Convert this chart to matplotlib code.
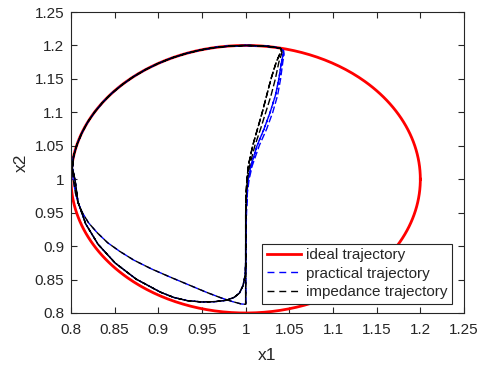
import numpy as np
import matplotlib
matplotlib.use("Agg")
import matplotlib.pyplot as plt
from matplotlib.lines import Line2D

plt.rcParams['font.family'] = ['Liberation Sans', 'DejaVu Sans']

# ---------------- data ----------------
ideal_center = (1.0, 1.0)
ideal_radius = 0.2

# vertical "spine" strands (shared y, several x variants)
spine_y = [0.85, 0.9, 0.95, 0.98, 1.0, 1.02, 1.05, 1.075, 1.1, 1.125, 1.15, 1.175, 1.187, 1.192]
spine_a = [1.0, 1.0, 1.0, 1.0005, 1.0015, 1.003, 1.008, 1.0135, 1.019, 1.024, 1.029, 1.035, 1.039, 1.041]
spine_b = [1.0, 1.0, 1.0, 1.001, 1.002, 1.0045, 1.0105, 1.017, 1.023, 1.029, 1.034, 1.038, 1.041, 1.042]
spine_c = [1.0, 1.0, 1.0005, 1.0015, 1.003, 1.006, 1.013, 1.021, 1.028, 1.034, 1.038, 1.041, 1.043, 1.043]
spine_d = [1.0, 1.0, 1.001, 1.002, 1.004, 1.0075, 1.0155, 1.024, 1.031, 1.0365, 1.040, 1.0425, 1.044, 1.0435]

# top corner into the arc
top_x = [1.040, 1.033, 1.022, 1.01, 1.0]
top_y = [1.1955, 1.1975, 1.199, 1.1997, 1.2]

# upper-left arc following the ideal circle
arc_x = [0.9826, 0.9653, 0.9482, 0.9316, 0.9155, 0.9000, 0.8853, 0.8714, 0.8586,
         0.8468, 0.8362, 0.8268, 0.8187, 0.8121, 0.8068, 0.8030]
arc_y = [1.1992, 1.1970, 1.1932, 1.1879, 1.1813, 1.1732, 1.1638, 1.1532, 1.1414,
         1.1286, 1.1147, 1.1000, 1.0845, 1.0684, 1.0518, 1.0347]

# inner return path (ends at the bottom corner)
inner_x = [0.8015, 0.8025, 0.805, 0.808, 0.813, 0.82, 0.83, 0.842, 0.856, 0.872,
           0.892, 0.913, 0.935, 0.955, 0.971, 0.985, 0.995, 1.0]
inner_y = [1.017, 1.0, 0.98, 0.965, 0.95, 0.935, 0.92, 0.905, 0.892, 0.879,
           0.866, 0.854, 0.842, 0.831, 0.823, 0.817, 0.8135, 0.813]

# outer return path (close to the ideal circle)
outer_x = [0.8015, 0.8045, 0.808, 0.8168, 0.8311, 0.8506, 0.8747, 0.9025, 0.9176,
           0.933, 0.95, 0.965, 0.978, 0.987, 0.993, 0.997, 0.9995, 1.0]
outer_y = [1.017, 1.0, 0.9661, 0.9333, 0.9025, 0.8747, 0.8506, 0.8311, 0.8233,
           0.8185, 0.8165, 0.817, 0.819, 0.8235, 0.83, 0.841, 0.857, 0.875]

corner = (1.0, 0.813)

practical_spines = [spine_c, spine_d, spine_c]
impedance_spines = [spine_a, spine_b, spine_a]

ticks = [0.8, 0.85, 0.9, 0.95, 1.0, 1.05, 1.1, 1.15, 1.2, 1.25]
tick_labels = ['0.8', '0.85', '0.9', '0.95', '1', '1.05', '1.1', '1.15', '1.2', '1.25']


def build(spines):
    xs, ys = [corner[0]], [corner[1]]
    # cycle 1: corner -> spine -> arc -> inner -> corner
    xs += spines[0]; ys += spine_y
    xs += top_x + arc_x + inner_x; ys += top_y + arc_y + inner_y
    # cycle 2: corner -> spine -> arc -> outer
    xs += spines[1]; ys += spine_y
    xs += top_x + arc_x + outer_x; ys += top_y + arc_y + outer_y
    # cycle 3: spine -> arc -> outer
    xs += spines[2][1:]; ys += spine_y[1:]
    xs += top_x + arc_x + outer_x; ys += top_y + arc_y + outer_y
    return np.array(xs), np.array(ys)


px, py = build(practical_spines)
ix, iy = build(impedance_spines)

theta = np.linspace(0, 2 * np.pi, 400)
ideal_x = ideal_center[0] + ideal_radius * np.cos(theta)
ideal_y = ideal_center[1] + ideal_radius * np.sin(theta)

# ---------------- figure ----------------
fig = plt.figure(figsize=(4.81, 3.65), dpi=100)
ax = fig.add_axes([71 / 481, 52 / 365, 393 / 481, 301 / 365])

axc = '#262626'
ax.plot(ideal_x, ideal_y, color='red', lw=2.0, label='ideal trajectory')
ax.plot(px, py, color='blue', lw=1.0, ls=(0, (5, 2)), label='practical trajectory')
ax.plot(ix, iy, color='black', lw=1.0, ls=(3, (5, 2)), label='impedance trajectory')

ax.set_xlim(0.8, 1.25)
ax.set_ylim(0.8, 1.25)
ax.set_xticks(ticks)
ax.set_xticklabels(tick_labels)
ax.set_yticks(ticks)
ax.set_yticklabels(tick_labels)
ax.tick_params(direction='in', length=4, width=0.8, top=True, right=True,
               labelsize=11, colors=axc, pad=5)
ax.tick_params(axis='x', pad=7)
for s in ax.spines.values():
    s.set_color(axc)
    s.set_linewidth(0.8)

ax.set_xlabel('x1', fontsize=12.5, color=axc, labelpad=8)
ax.set_ylabel('x2', fontsize=12.5, color=axc, labelpad=4)

handles = [Line2D([], [], color='red', lw=2.0),
           Line2D([], [], color='blue', lw=1.0, ls=(0, (5, 3.5))),
           Line2D([], [], color='black', lw=1.0, ls=(0, (5, 3.5)))]
labels = ['ideal trajectory', 'practical trajectory', 'impedance trajectory']
leg = ax.legend(handles, labels, loc='lower right', bbox_to_anchor=(0.9695, 0.030),
                borderaxespad=0, fontsize=11, frameon=True, fancybox=False,
                framealpha=1, edgecolor=axc, handlelength=2.25, handletextpad=0.3,
                labelspacing=0.3, borderpad=0.3)
leg.get_frame().set_linewidth(0.8)
for t in leg.get_texts():
    t.set_color(axc)

fig.savefig('out.png', dpi=100)
